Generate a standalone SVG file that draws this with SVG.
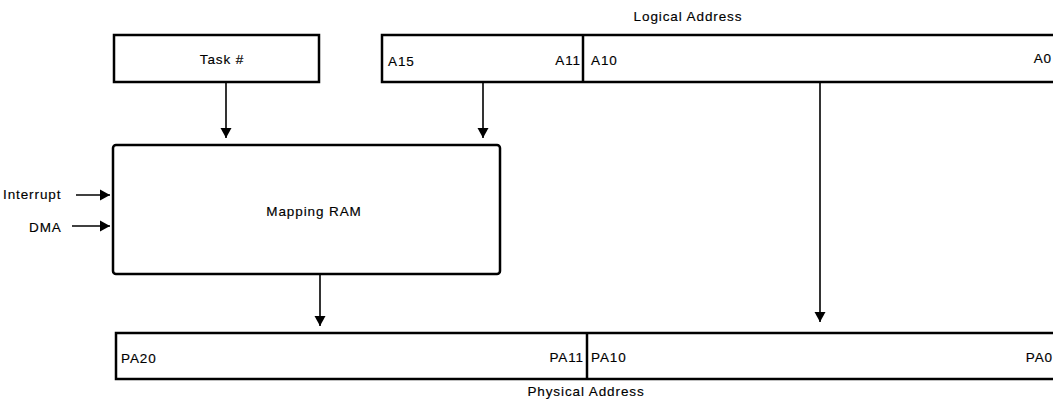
<svg xmlns="http://www.w3.org/2000/svg" width="1053" height="403" viewBox="0 0 1053 403">
<style>
.box{fill:#fff;stroke:#000;stroke-width:2.5}
.div{stroke:#000;stroke-width:2.5}
.t{font-family:"Liberation Sans",Arial,sans-serif;font-size:13.5px;letter-spacing:0.9px;fill:#000;stroke:#000;stroke-width:0.15}
.c{text-anchor:middle}
.e{text-anchor:end}
.ln{stroke:#000;stroke-width:1.6;fill:none}
</style>
<defs>
<marker id="ah" viewBox="0 0 10 15" refX="10" refY="7.5" markerWidth="10" markerHeight="15" markerUnits="userSpaceOnUse" orient="auto">
<path d="M0,2 L10,7.5 L0,13 Z" fill="#000"/>
</marker>
</defs>
<rect width="1053" height="403" fill="#fff"/>
<g id="task">
<rect class="box" x="114" y="35" width="205" height="47"/>
<text class="t c" x="222" y="64">Task #</text>
</g>
<g id="logical">
<text class="t c" x="688" y="21">Logical Address</text>
<rect class="box" x="382" y="35" width="690" height="47"/>
<line class="div" x1="583" y1="35" x2="583" y2="82"/>
<text class="t" x="388" y="66">A15</text>
<text class="t e" x="581" y="65">A11</text>
<text class="t" x="591" y="65">A10</text>
<text class="t e" x="1052" y="63">A0</text>
</g>
<g id="mapping">
<rect class="box" x="113" y="145" width="387" height="129" rx="3"/>
<text class="t c" x="314" y="216">Mapping RAM</text>
</g>
<g id="inputs">
<text class="t" x="3" y="199">Interrupt</text>
<text class="t" x="29" y="232">DMA</text>
</g>
<g id="physical">
<rect class="box" x="116" y="333" width="960" height="46"/>
<line class="div" x1="587" y1="333" x2="587" y2="379"/>
<text class="t" x="121" y="363">PA20</text>
<text class="t e" x="584" y="362">PA11</text>
<text class="t" x="591" y="362">PA10</text>
<text class="t e" x="1053" y="362">PA0</text>
<text class="t c" x="586" y="396">Physical Address</text>
</g>
<g id="connectors">
<line class="ln" x1="226" y1="82" x2="226" y2="138" marker-end="url(#ah)"/>
<line class="ln" x1="483" y1="82" x2="483" y2="138" marker-end="url(#ah)"/>
<line class="ln" x1="820" y1="82" x2="820" y2="322" marker-end="url(#ah)"/>
<line class="ln" x1="320" y1="274" x2="320" y2="326" marker-end="url(#ah)"/>
<line class="ln" x1="76" y1="195" x2="110" y2="195" marker-end="url(#ah)"/>
<line class="ln" x1="72" y1="226" x2="110" y2="226" marker-end="url(#ah)"/>
</g>
</svg>
